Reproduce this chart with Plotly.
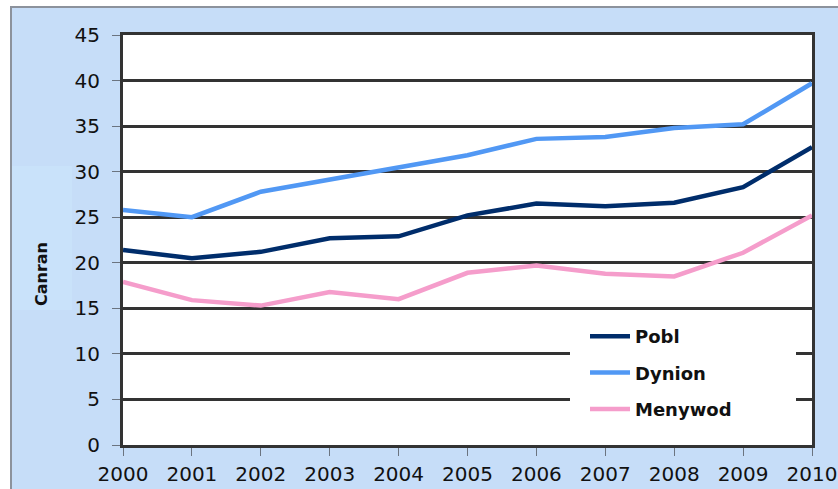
import plotly.graph_objects as go

# Percentage series, 2000-2010
years = [2000, 2001, 2002, 2003, 2004, 2005, 2006, 2007, 2008, 2009, 2010]
pobl = [21.4, 20.5, 21.2, 22.7, 22.9, 25.2, 26.5, 26.2, 26.6, 28.3, 32.7]
dynion = [25.8, 25.0, 27.8, 29.1, 30.4, 31.8, 33.6, 33.8, 34.8, 35.2, 39.7]
menywod = [17.9, 15.9, 15.3, 16.8, 16.0, 18.9, 19.7, 18.8, 18.5, 21.1, 25.2]

series = [
    ("Pobl", pobl, "#002d6b"),
    ("Dynion", dynion, "#5198f4"),
    ("Menywod", menywod, "#f59dcb"),
]
y_ticks = [0, 5, 10, 15, 20, 25, 30, 35, 40, 45]

W, H = 838, 489
ML, MR, MT, MB = 123, 26, 35, 44
PW, PH = W - ML - MR, H - MT - MB


def px_x(px):
    return (px - ML) / PW


def px_y(py):
    return (H - MB - py) / PH


fig = go.Figure()
for i, (name, vals, col) in enumerate(series):
    fig.add_trace(go.Scatter(
        x=years, y=vals, name=name, mode="lines",
        line=dict(color=col, width=4.5),
        legendgroup=f"g{i}",
    ))

axis_font = dict(family="DejaVu Sans", size=20, color="#111111")

fig.update_layout(
    width=W, height=H,
    margin=dict(l=ML, r=MR, t=MT, b=MB, autoexpand=False),
    paper_bgcolor="white",
    plot_bgcolor="white",
    showlegend=True,
    legend=dict(
        x=px_x(585), y=px_y(318), xanchor="left", yanchor="top",
        bgcolor="rgba(0,0,0,0)", borderwidth=0,
        font=dict(family="DejaVu Sans", size=18, color="#111111", weight="bold"),
        tracegroupgap=10, itemwidth=40,
        traceorder="grouped",
    ),
    xaxis=dict(
        range=[2000, 2010], tickvals=years, ticktext=[str(y) for y in years],
        showgrid=False, zeroline=False, automargin=False,
        showline=True, linecolor="#333333", linewidth=3, mirror=True,
        ticks="outside", ticklen=8, tickcolor="#6b7480", tickwidth=1,
        tickfont=axis_font, ticklabelstandoff=1,
    ),
    yaxis=dict(
        range=[0, 45], tickvals=y_ticks,
        showgrid=True, gridcolor="#333333", gridwidth=2.5, zeroline=False,
        showline=True, linecolor="#333333", linewidth=3, mirror=True, automargin=False,
        ticks="outside", ticklen=8, tickcolor="#6b7480", tickwidth=1,
        tickfont=axis_font, ticklabelstandoff=8,
    ),
    shapes=[
        # chart frame
        dict(type="rect", xref="paper", yref="paper", layer="below",
             x0=px_x(11), x1=px_x(845), y0=px_y(7), y1=px_y(495),
             fillcolor="#c6ddf8", line=dict(color="#8c929c", width=2)),
        # white plotting area
        dict(type="rect", xref="paper", yref="paper", layer="below",
             x0=0, x1=1, y0=0, y1=1,
             fillcolor="white", line=dict(width=0)),
        # panel behind the axis title
        dict(type="rect", xref="paper", yref="paper", layer="below",
             x0=px_x(12), x1=px_x(72), y0=px_y(166), y1=px_y(310),
             fillcolor="#c9e2fa", line=dict(width=0)),
        # white legend panel hiding the grid in the lower right
        dict(type="rect", xref="paper", yref="paper", layer="above",
             x0=px_x(570), x1=px_x(796), y0=px_y(441), y1=px_y(316),
             fillcolor="white", line=dict(width=0)),
    ],
    annotations=[
        dict(text="Canran", xref="paper", yref="paper",
             x=px_x(41), y=px_y(274), textangle=-90, showarrow=False,
             font=dict(family="DejaVu Sans", size=16, color="#111111", weight="bold"),
             xanchor="center", yanchor="middle"),
    ],
)

fig.write_html("out.html")
